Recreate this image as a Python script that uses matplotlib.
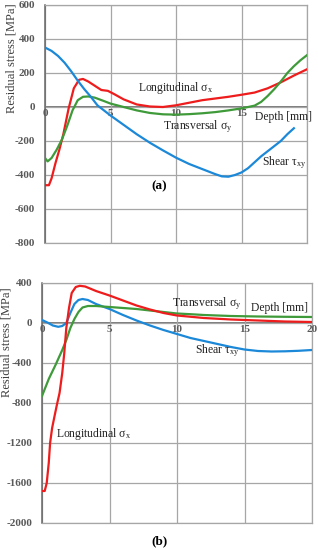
import numpy as np
import matplotlib
matplotlib.use("Agg")
from matplotlib import pyplot as plt

plt.rcParams['font.family'] = ['Liberation Serif', 'DejaVu Serif']

# panel (a)
a_red_x = [0, 0.3, 0.5, 0.8, 1.1, 1.4, 1.8, 2.2, 2.6, 2.9, 3.3, 3.8, 4.3, 4.8, 5.3, 6, 7, 8, 9, 10,
           11, 12, 13, 14, 15, 16, 17, 18, 19, 20]
a_red_y = [-460, -460, -420, -330, -250, -160, -10, 110, 160, 165, 150, 125, 100, 95, 75, 45, 15, 3, 0, 10,
           25, 40, 50, 60, 72, 85, 110, 145, 185, 222]
a_green_x = [0, 0.2, 0.5, 0.9, 1.3, 1.7, 2.1, 2.5, 2.9, 3.3, 3.8, 4.5, 5, 6, 7, 8, 9, 10, 11, 12, 13,
             14, 15, 16, 16.5, 17, 17.5, 18, 18.5, 19, 19.5, 20]
a_green_y = [-300, -320, -300, -250, -190, -110, -20, 40, 60, 62, 55, 35, 20, 0, -20, -35, -43, -45, -42, -37, -30,
             -20, -8, 8, 30, 65, 105, 150, 200, 240, 275, 305]
a_blue_x = [0, 0.5, 1, 1.5, 2, 2.5, 3, 3.5, 4, 5, 6, 7, 8, 9, 10, 11, 12, 13, 13.5, 14, 14.5, 15,
            15.5, 16, 16.5, 17, 17.5, 18, 18.5, 19]
a_blue_y = [350, 330, 300, 260, 210, 155, 105, 60, 10, -50, -105, -160, -210, -255, -298, -335, -365, -395, -408, -410, -400, -385,
            -360, -325, -290, -260, -230, -200, -160, -125]

# panel (b)
b_red_x = [0, 0.2, 0.35, 0.5, 0.6, 0.75, 0.9, 1.1, 1.3, 1.5, 1.65, 1.8, 2.0, 2.2, 2.5, 2.8, 3.2, 4, 5, 6,
           7, 8, 9, 10, 12, 14, 16, 18, 20]
b_red_y = [-1680, -1680, -1600, -1400, -1200, -1050, -950, -820, -700, -500, -300, -50, 150, 300, 360, 372, 365, 320, 275, 225,
           175, 135, 100, 75, 50, 35, 25, 15, 10]
b_green_x = [0, 0.5, 1, 1.5, 1.8, 2.1, 2.4, 2.7, 3, 3.4, 4, 5, 6, 7, 8, 9, 10, 11, 12, 14, 16, 18, 20]
b_green_y = [-730, -560, -420, -270, -170, -50, 40, 110, 155, 170, 170, 160, 150, 140, 125, 110, 95, 88, 80, 70, 65, 62, 60]
b_blue_x = [0, 0.4, 0.8, 1.2, 1.5, 1.8, 2.1, 2.4, 2.7, 3, 3.4, 4, 5, 6, 7, 7.5, 8, 9, 10, 11, 12, 13,
            14, 15, 16, 17, 18, 19, 20]
b_blue_y = [30, 5, -25, -38, -30, 0, 100, 190, 230, 240, 230, 190, 140, 80, 25, 0, -25, -70, -110, -150, -180, -210,
            -240, -265, -280, -285, -283, -278, -270]

x_ticks_a = [0, 5, 10, 15]
x_ticks_b = [0, 5, 10, 15, 20]

RED = '#ee1c1c'
GREEN = '#3f9a3a'
BLUE = '#1c88d8'
GRID = '#a6a6a6'
TICK = '#595959'

fig = plt.figure(figsize=(3.18, 5.5), dpi=100)
ax1 = fig.add_axes([45/318, 1-243/550, 262/318, 238/550])
ax2 = fig.add_axes([42/318, 1-523/550, 270/318, 240/550])


def style(ax, ylim, ystep, xlabels, label_dy, ylab_xy):
    ax.set_xlim(0, 20)
    ax.set_ylim(*ylim)
    ax.set_xticks([0, 5, 10, 15, 20])
    ax.set_yticks(np.arange(ylim[0], ylim[1] + 1, ystep))
    ax.set_xticklabels([])
    ax.set_yticklabels([str(int(v)) for v in ax.get_yticks()], fontweight='bold',
                       fontsize=8, color=TICK)
    ax.tick_params(length=0, pad=7)
    ax.grid(True, color=GRID, lw=0.9)
    for s in ax.spines.values():
        s.set_color(GRID)
        s.set_linewidth(0.9)
    ax.spines['left'].set_color('#666666')
    ax.spines['left'].set_linewidth(1.1)
    ax.axhline(0, color='#555555', lw=1.1, zorder=1)
    for v in xlabels:
        ax.text(v, label_dy, str(v), ha='center', va='top',
                fontsize=8, fontweight='bold', color=TICK)
    ax.set_ylabel('Residual stress [MPa]', fontsize=9, color='#404040')
    ax.yaxis.set_label_coords(*ylab_xy)


style(ax1, (-800, 600), 200, x_ticks_a, -12, (-0.105, 0.775))
style(ax2, (-2000, 400), 400, x_ticks_b, -15, (-0.108, 0.755))

for ax, data in ((ax1, [(a_red_x, a_red_y, RED), (a_green_x, a_green_y, GREEN), (a_blue_x, a_blue_y, BLUE)]),
                 (ax2, [(b_blue_x, b_blue_y, BLUE), (b_green_x, b_green_y, GREEN), (b_red_x, b_red_y, RED)])):
    for x, y, c in data:
        ax.plot(x, y, color=c, lw=1.6, zorder=3)

tkw = dict(fontsize=8.4, color='#222222', va='center')
ax1.text(7.1, 112, r'Longitudinal $\mathregular{\sigma_x}$', **tkw)
ax1.text(9.0, -118, r'Transversal $\mathregular{\sigma_y}$', **tkw)
ax1.text(16.6, -330, r'Shear $\mathregular{\tau_{xy}}$', **tkw)
ax1.text(16.0, -60, 'Depth [mm]', **tkw)

ax2.text(9.6, 190, r'Transversal $\mathregular{\sigma_y}$', **tkw)
ax2.text(15.5, 155, 'Depth [mm]', **tkw)
ax2.text(11.3, -275, r'Shear $\mathregular{\tau_{xy}}$', **tkw)
ax2.text(1.0, -1110, r'Longitudinal $\mathregular{\sigma_x}$', **tkw)

fig.text(0.5, 1-186/550, '(a)', ha='center', va='center', fontsize=9.5, fontweight='bold')
fig.text(0.5, 1-541/550, '(b)', ha='center', va='center', fontsize=9.5, fontweight='bold')

fig.savefig('out.png', dpi=100)
